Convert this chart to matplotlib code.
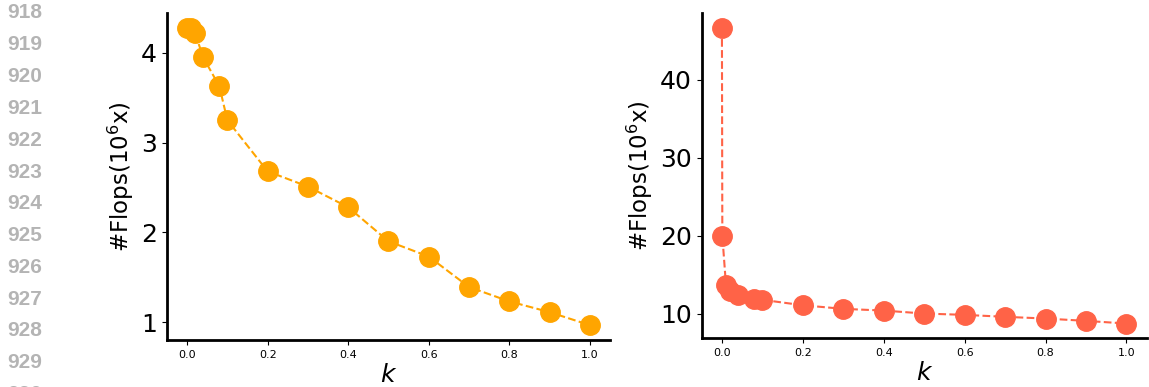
import numpy as np
import matplotlib
matplotlib.use('Agg')
import matplotlib.pyplot as plt

# Values
k_left = [0.0, 0.01, 0.02, 0.04, 0.08, 0.1, 0.2, 0.3, 0.4, 0.5, 0.6, 0.7, 0.8, 0.9, 1.0]
flops_left = [4.28, 4.28, 4.22, 3.95, 3.63, 3.25, 2.68, 2.51, 2.28, 1.90, 1.73, 1.39, 1.23, 1.11, 0.965]

k_right = [0.0, 0.001, 0.01, 0.02, 0.04, 0.08, 0.1, 0.2, 0.3, 0.4, 0.5, 0.6, 0.7, 0.8, 0.9, 1.0]
flops_right = [46.6, 20.0, 13.7, 12.9, 12.47, 11.95, 11.8, 11.1, 10.64, 10.42, 10.04, 9.87, 9.62, 9.4, 9.1, 8.76]

line_numbers = [918, 919, 920, 921, 922, 923, 924, 925, 926, 927, 928, 929, 930]

fig = plt.figure(figsize=(11.49, 3.87), dpi=100)

# Line numbers from the page margin
for i, n in enumerate(line_numbers):
    fig.text(0.0215, 1 - (13 + i * 31.8) / 387, str(n), color='#b4b4b4',
             fontsize=15, fontweight='bold', family='Liberation Sans',
             ha='center', va='center')

ax1 = fig.add_axes([0.1453, 0.1214, 0.3856, 0.845])
ax2 = fig.add_axes([0.6107, 0.1258, 0.3873, 0.840])

ax1.plot(k_left, flops_left, '--o', color='#FFA500', markersize=14,
         linewidth=1.5, markeredgecolor='#FFA500')
ax2.plot(k_right, flops_right, '--o', color='#FF6347', markersize=14,
         linewidth=1.5, markeredgecolor='#FF6347')

ax1.set_yticks([1, 2, 3, 4])
ax2.set_yticks([10, 20, 30, 40])

for ax in (ax1, ax2):
    ax.spines['top'].set_visible(False)
    ax.spines['right'].set_visible(False)
    ax.spines['left'].set_linewidth(2)
    ax.spines['bottom'].set_linewidth(2)
    ax.set_xticks([0.0, 0.2, 0.4, 0.6, 0.8, 1.0])
    ax.tick_params(axis='x', labelsize=8)
    ax.tick_params(axis='y', labelsize=18)
    ax.set_xlabel('$k$', fontsize=18, labelpad=2)
    ax.set_ylabel('#Flops(10$^6$x)', fontsize=16.5, labelpad=4)

fig.savefig('out.png', dpi=100)
